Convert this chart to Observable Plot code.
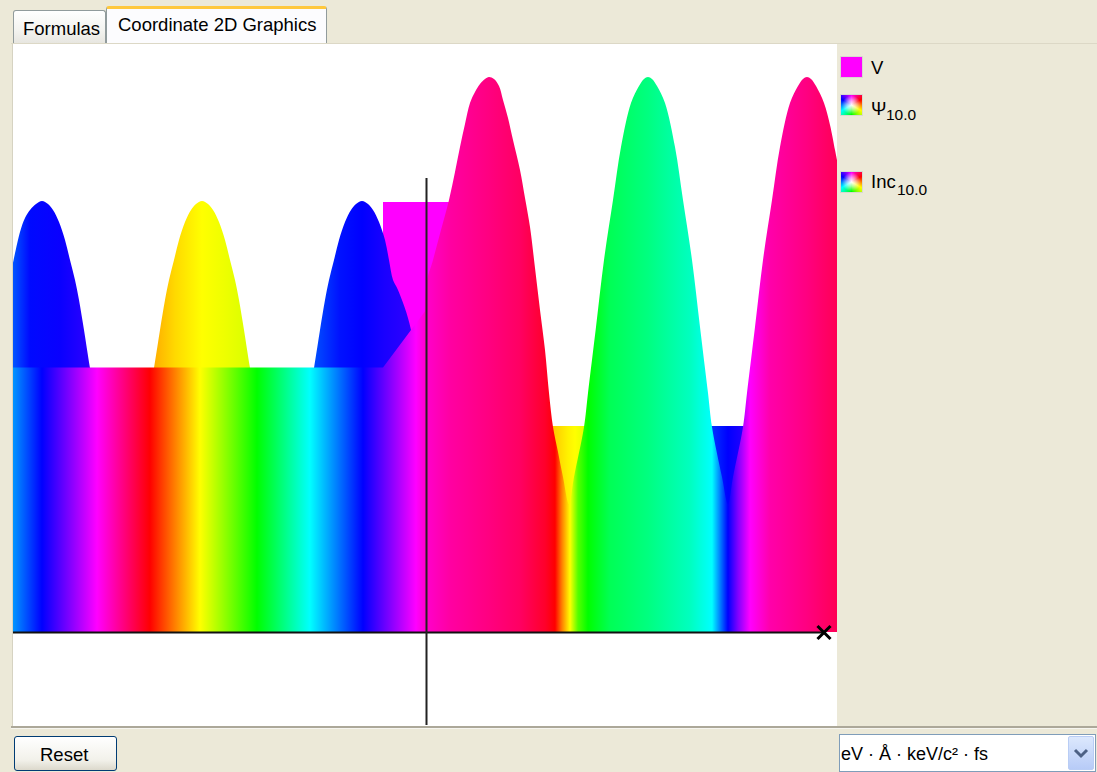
<!DOCTYPE html>
<html>
<head>
<meta charset="utf-8">
<script src="https://cdn.jsdelivr.net/npm/d3@7"></script>
<script src="https://cdn.jsdelivr.net/npm/@observablehq/plot@0.6"></script>
<style>
  html, body { margin: 0; padding: 0; }
  body { width: 1097px; height: 772px; background: #ece9d8; position: relative; overflow: hidden;
         font-family: "Liberation Sans", Arial, sans-serif; color: #000; }
  .abs { position: absolute; }
  .txt { position: absolute; line-height: 1; white-space: nowrap; font-size: 18.5px; }
  .sub { position: absolute; line-height: 1; white-space: nowrap; font-size: 15.5px; }
  #tab1 { left: 13px; top: 10px; width: 91px; height: 33px; border: 1px solid #919b9c; border-bottom: none;
          border-radius: 3px 3px 0 0; background: linear-gradient(#ffffff, #f3f3ef 60%, #e6e5df); }
  #tab2 { left: 106px; top: 6px; width: 221px; height: 38px; border: 1px solid #919b9c; border-bottom: none;
          border-top: 3px solid #ffc83c; border-radius: 3px 3px 0 0; background: #fcfcfe; box-sizing: border-box; }
  #panelTop { left: 11px; top: 43px; width: 1086px; height: 1px; background: #dcd8c6; }
  #white { left: 12px; top: 44px; width: 825px; height: 682px; background: #fff; border-left: 1px solid #d6d3c2; box-sizing: border-box; }
  #plotHolder { left: 13px; top: 45px; }
  #sep1 { left: 11px; top: 726px; width: 1086px; height: 2px; background: #aca899; }
  #sep2 { left: 11px; top: 728px; width: 1086px; height: 1px; background: #f6f5ef; }
  #reset { left: 14px; top: 736px; width: 103px; height: 35px; box-sizing: border-box; border: 1px solid #003c74;
           border-radius: 3px; background: linear-gradient(#ffffff, #f2f1ea 70%, #dcd9cc); }
  #combo { left: 839px; top: 734px; width: 257px; height: 38px; box-sizing: border-box; border: 1px solid #7f9db9; background: #fff; }
  #comboBtn { left: 1068px; top: 736px; width: 26px; height: 34px; box-sizing: border-box; border: 1px solid #b9cdf5;
              border-radius: 2px; background: linear-gradient(#dce8fd, #b7cbf7); }
  .sw { position: absolute; left: 840px; width: 23px; height: 22px; box-sizing: border-box; border: 1px solid #d8d8d0; }
  .wheel { background:
      radial-gradient(circle at 50% 50%, rgba(255,255,255,1) 0%, rgba(255,255,255,0.6) 30%, rgba(255,255,255,0) 65%),
      conic-gradient(from 0deg, #ff00ff 0deg, #ff0000 60deg, #ffff00 120deg, #00ff00 180deg, #00ffff 240deg, #0000ff 300deg, #ff00ff 360deg); }
</style>
</head>
<body>
<div class="abs" id="tab1"></div>
<div class="abs" id="tab2"></div>
<div class="txt" style="left:23px; top:20px;">Formulas</div>
<div class="txt" style="left:118px; top:16px;">Coordinate 2D Graphics</div>
<div class="abs" id="panelTop"></div>
<div class="abs" id="white"></div>
<div class="abs" id="plotHolder"></div>

<div class="sw" style="top:56px; background:#ff00ff;"></div>
<div class="txt" style="left:871px; top:58.5px;">V</div>
<div class="sw wheel" style="top:94px;"></div>
<div class="txt" style="left:871px; top:99.5px;">Ψ</div>
<div class="sub" style="left:886px; top:106.5px;">10.0</div>
<div class="sw wheel" style="top:171px;"></div>
<div class="txt" style="left:871px; top:172.5px;">Inc</div>
<div class="sub" style="left:897px; top:182px;">10.0</div>

<div class="abs" id="sep1"></div>
<div class="abs" id="sep2"></div>
<div class="abs" id="reset"></div>
<div class="txt" style="left:40px; top:746px;">Reset</div>
<div class="abs" id="combo"></div>
<div class="txt" style="left:841px; top:745px; font-size:18px;">eV · Å · keV/c² · fs</div>
<div class="abs" id="comboBtn"><svg width="24" height="32"><path d="M6 13 L12 19 L18 13" fill="none" stroke="#4d6185" stroke-width="3"/></svg></div>

<script>
// ---------- data (x in Å-like units, y in amplitude units) ----------
// wave function |Ψ| envelope
const psiX = [-41.3,-40.6,-40.1,-39.6,-39.0,-38.4,-37.8,-37.3,-36.7,-36.1,-35.6,-35.1,-34.7,-34.2,-33.6,-32.0,-30.4,-28.8,-27.2,
  -26.6,-26.1,-25.7,-25.2,-24.7,-24.1,-23.5,-23.0,-22.4,-21.8,-21.3,-20.7,-20.1,-19.6,-19.1,-18.7,-18.2,-17.6,-16.0,-14.4,-12.8,-11.2,
  -10.6,-10.1,-9.7,-9.2,-8.7,-8.1,-7.5,-7.0,-6.4,-5.8,-5.3,-4.7,-4.1,-3.7,-3.3,-2.8,-1.5,-0.8,-0.1,
  0.0,0.7,1.5,2.3,2.9,3.4,3.9,4.4,4.9,5.4,5.9,6.3,6.8,7.3,7.7,8.2,8.7,9.4,9.9,10.4,10.9,11.4,11.9,12.3,12.7,13.2,13.7,14.3,
  14.8,15.8,16.2,17.0,17.8,18.7,19.5,20.5,21.3,21.8,22.2,22.6,23.1,23.9,24.9,25.7,26.6,27.4,28.2,28.6,29.6,30.2,
  30.7,31.7,32.1,32.9,33.7,34.6,35.4,36.4,37.2,37.7,38.1,38.5,39.0,39.8,40.4,40.9,41.1];
const psiY = [3.69,4.00,4.14,4.22,4.28,4.31,4.28,4.22,4.10,3.92,3.72,3.52,3.32,3.02,2.64,1.72,0.98,1.72,2.64,
  3.02,3.32,3.52,3.72,3.92,4.10,4.22,4.28,4.31,4.28,4.22,4.10,3.92,3.72,3.52,3.32,3.02,2.64,1.72,0.98,1.72,2.64,
  3.02,3.32,3.52,3.72,3.92,4.10,4.22,4.28,4.31,4.28,4.22,4.10,3.92,3.72,3.52,3.42,3.02,2.12,0.92,
  3.45,3.72,4.02,4.32,4.60,4.85,5.08,5.29,5.40,5.48,5.53,5.55,5.53,5.46,5.32,5.14,4.92,4.62,4.34,4.05,3.64,3.22,2.82,2.39,2.05,1.80,1.55,1.28,
  1.55,2.05,2.39,3.05,3.72,4.32,4.85,5.29,5.46,5.53,5.55,5.53,5.46,5.29,4.85,4.32,3.72,3.05,2.39,2.05,1.55,1.28,
  1.55,2.05,2.39,3.05,3.72,4.32,4.85,5.29,5.46,5.53,5.55,5.53,5.46,5.29,5.07,4.82,4.72];
// phase of Ψ (degrees, unwrapped) along x
const psiPhaseX = [-41.3,-39.6,-36.6,-33.8,-32.1,-30.4,-27.2,-25.1,-22.4,-20.1,-17.7,-16.1,-14.4,-12.8,-11.3,-8.6,-6.4,-4.1,-1.5,-0.2,
  0.0,2.4,6.3,9.4,11.9,12.9,13.6,14.4,15.2,16.2,18.4,22.2,26.4,28.6,29.4,30.2,31.2,32.4,34.4,38.1,41.1];
const psiPhase = [220,238,242,250,300,340,401,411,420,424,429,480,520,560,581,596,600,606,611,660,
  672,682,690,697,710,720,750,780,820,840,860,870,885,900,930,960,990,1020,1040,1050,1060];

// incident wave amplitude, left and right of the origin
const incLeftX = [-41.3,-4.3,-1.5,0.0];
const incLeftY = [2.645,2.645,3.02,3.22];
const incRightX = [0.0,41.1];
const incRightY = [2.06,2.06];
// incident wave phase (degrees, unwrapped)
const incLeftPhaseX = [-41.3,-38.4,-32.9,-27.6,-22.6,-16.9,-11.6,-6.3,-1.0,0.0];
const incLeftPhase = [205,240,300,360,420,480,540,600,660,672];
const incRightPhaseX = [12.7,14.2,14.9,15.7,28.7,30.2,31.7];
const incRightPhase = [47,57,60,65,229,240,248];

// potential barrier V
const vX1 = [-4.3];
const vX2 = [4.3];
const vTop = [4.30];

// axes extents and marker
const axisXEnd = [39.75];
const axisYTop = [4.54];
const markerX = [39.75];
const markerY = [0];

// ---------- build ----------
const psi = psiX.map((x, i) => ({x, y: psiY[i]}));
const incL = incLeftX.map((x, i) => ({x, y: incLeftY[i]}));
const incR = incRightX.map((x, i) => ({x, y: incRightY[i]}));
const vData = vX1.map((x1, i) => ({x1, x2: vX2[i], top: vTop[i]}));
const marker = markerX.map((x, i) => ({x, y: markerY[i]}));

const chart = Plot.plot({
  width: 824,
  height: 680,
  margin: 0,
  x: {domain: [-41.3, 41.1], axis: null},
  y: {domain: [-0.93, 5.87], axis: null},
  style: {background: "white"},
  marks: [
    Plot.rect(vData, {x1: "x1", x2: "x2", y1: 0, y2: "top", fill: "#ff00ff"}),
    Plot.areaY(incR, {x: "x", y: "y", fill: "url(#incRightGrad)"}),
    Plot.areaY(psi, {x: "x", y: "y", curve: "catmull-rom", fill: "url(#psiGrad)"}),
    Plot.areaY(incL, {x: "x", y: "y", fill: "url(#incLeftGrad)"}),
    Plot.ruleY([0], {x1: -41.3, x2: axisXEnd[0], stroke: "#111", strokeWidth: 2}),
    Plot.ruleX([0], {y1: -0.93, y2: axisYTop[0], stroke: "#222", strokeWidth: 2}),
    Plot.dot(marker, {x: "x", y: "y", symbol: "times", r: 6, stroke: "#000", strokeWidth: 3})
  ]
});

const xs = chart.scale("x");
const defs = d3.select(chart).insert("defs", ":first-child");
function addGradient(id, px, ph) {
  const a = xs.apply(px[0]), b = xs.apply(px[px.length - 1]);
  const g = defs.append("linearGradient").attr("id", id).attr("gradientUnits", "userSpaceOnUse")
    .attr("x1", a).attr("x2", b).attr("y1", 0).attr("y2", 0);
  px.forEach((x, i) => {
    g.append("stop")
      .attr("offset", (xs.apply(x) - a) / (b - a))
      .attr("stop-color", d3.hsl(ph[i], 1, 0.5).formatHex());
  });
}
addGradient("psiGrad", psiPhaseX, psiPhase);
addGradient("incLeftGrad", incLeftPhaseX, incLeftPhase);
addGradient("incRightGrad", incRightPhaseX, incRightPhase);

document.getElementById("plotHolder").appendChild(chart);
</script>
</body>
</html>
